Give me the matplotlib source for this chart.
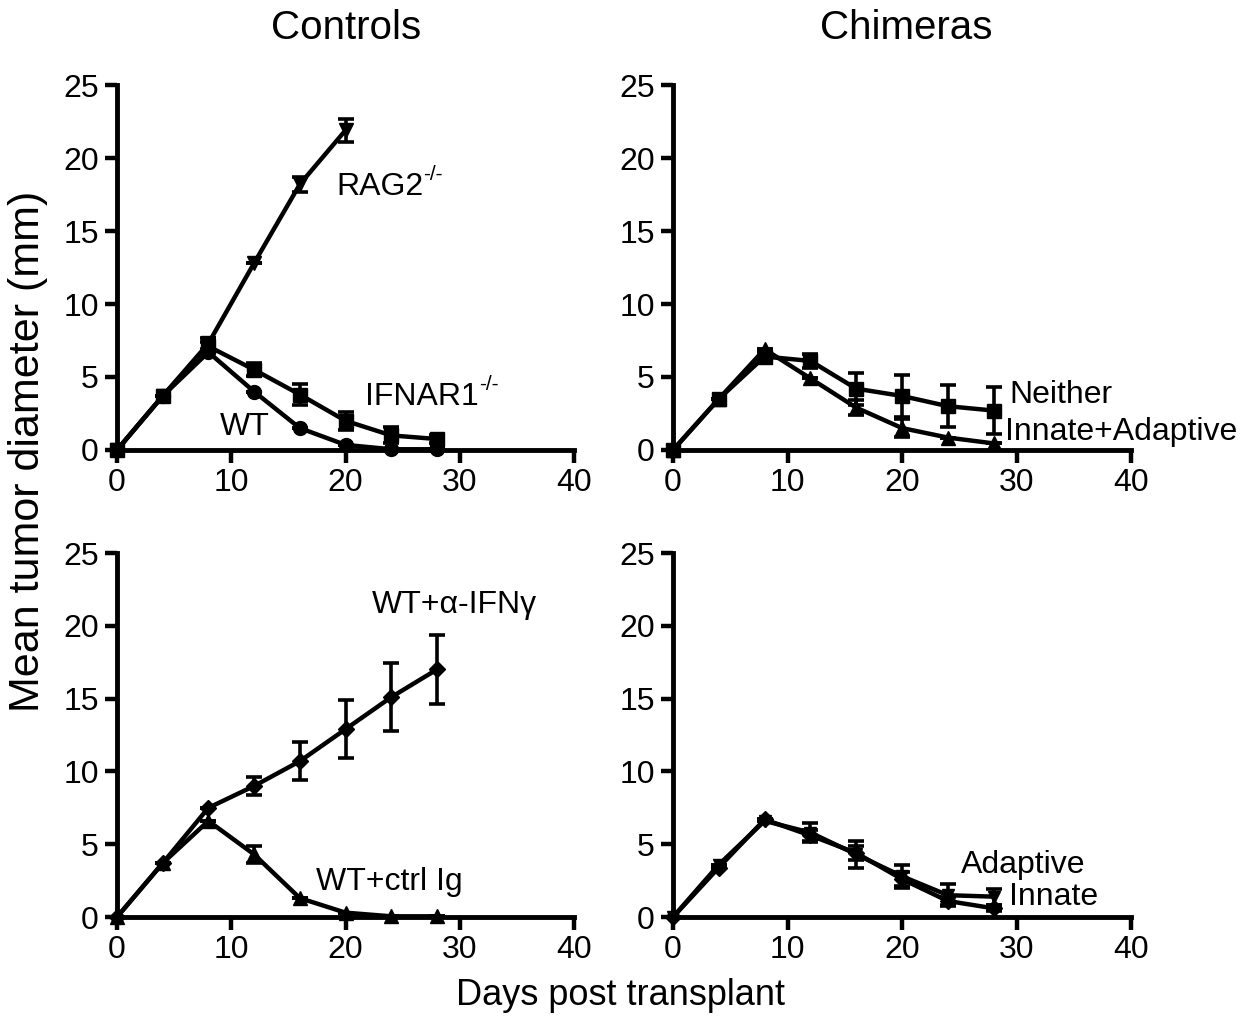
import numpy as np
import matplotlib.pyplot as plt

plt.rcParams['font.family'] = ['Liberation Sans', 'DejaVu Sans']

days = [0, 4, 8, 12, 16, 20, 24, 28]

# controls (top left)
rag2 = [0, 3.7, 7.3, 12.8, 18.2, 21.9]
rag2_err = [0, 0, 0.4, 0, 0.5, 0.8]
ifnar1 = [0, 3.7, 7.1, 5.5, 3.8, 2.0, 1.0, 0.75]
ifnar1_err = [0, 0, 0.3, 0.45, 0.75, 0.6, 0.55, 0.3]
wt = [0, 3.7, 6.7, 4.0, 1.5, 0.35, 0.05, 0.05]
wt_err = [0, 0, 0, 0, 0, 0, 0, 0]

# chimeras (top right)
neither = [0, 3.5, 6.4, 6.1, 4.2, 3.7, 3.0, 2.7]
neither_err = [0, 0, 0.3, 0.45, 1.1, 1.45, 1.45, 1.6]
innate_adapt = [0, 3.5, 6.9, 4.9, 2.9, 1.5, 0.85, 0.45]
innate_adapt_err = [0, 0, 0, 0, 0.5, 0.6, 0, 0]

# controls (bottom left)
anti_ifng = [0, 3.7, 7.5, 9.0, 10.7, 12.9, 15.1, 17.0]
anti_ifng_err = [0, 0, 0, 0.65, 1.3, 2.0, 2.35, 2.4]
ctrl_ig = [0, 3.7, 6.6, 4.3, 1.3, 0.3, 0.05, 0.05]
ctrl_ig_err = [0, 0, 0, 0.6, 0, 0, 0, 0]

# chimeras (bottom right)
adaptive = [0, 3.6, 6.6, 5.8, 4.3, 2.8, 1.5, 1.4]
adaptive_err = [0, 0, 0, 0.65, 0.9, 0.8, 0.75, 0.55]
innate = [0, 3.4, 6.7, 5.6, 4.4, 2.6, 1.1, 0.6]
innate_err = [0, 0, 0, 0.4, 0.5, 0.5, 0.3, 0.2]

fig = plt.figure(figsize=(12.58, 10.22), dpi=100)

ax_tl = fig.add_axes([0.0930, 0.5597, 0.3633, 0.3571])
ax_tr = fig.add_axes([0.5350, 0.5597, 0.3641, 0.3571])
ax_bl = fig.add_axes([0.0930, 0.1027, 0.3633, 0.3562])
ax_br = fig.add_axes([0.5350, 0.1027, 0.3641, 0.3562])


def curve(ax, y, err, marker, ms=10):
    x = days[:len(y)]
    ax.errorbar(x, y, yerr=err, color='black', lw=3.2, marker=marker, ms=ms,
                capsize=6, capthick=2.6, elinewidth=2.6, clip_on=False, zorder=3)


def label(ax, x, y, s, sup=None):
    t = ax.text(x, y, s, fontsize=23, va='center')
    if sup:
        ax.annotate(sup, xy=(1.0, 0.62), xycoords=t, fontsize=15, va='bottom')


def style(ax):
    ax.set_xlim(0, 40)
    ax.set_ylim(0, 25)
    ax.set_xticks([0, 10, 20, 30, 40])
    ax.set_yticks([0, 5, 10, 15, 20, 25])
    for s in ['top', 'right']:
        ax.spines[s].set_visible(False)
    for s in ['left', 'bottom']:
        ax.spines[s].set_linewidth(3.5)
    ax.tick_params(direction='out', length=9, width=3.2, labelsize=23, pad=4)


curve(ax_tl, rag2, rag2_err, 'v')
curve(ax_tl, ifnar1, ifnar1_err, 's')
curve(ax_tl, wt, wt_err, 'o')
label(ax_tl, 19.2, 18.0, 'RAG2', '-/-')
label(ax_tl, 21.7, 3.6, 'IFNAR1', '-/-')
label(ax_tl, 9.0, 1.6, 'WT')

curve(ax_tr, neither, neither_err, 's')
curve(ax_tr, innate_adapt, innate_adapt_err, '^')
label(ax_tr, 29.4, 3.8, 'Neither')
label(ax_tr, 29.0, 1.2, 'Innate+Adaptive')

curve(ax_bl, anti_ifng, anti_ifng_err, 'D', ms=8)
curve(ax_bl, ctrl_ig, ctrl_ig_err, '^')
label(ax_bl, 22.3, 21.4, 'WT+α-IFNγ')
label(ax_bl, 17.4, 2.4, 'WT+ctrl Ig')

curve(ax_br, adaptive, adaptive_err, 'v', ms=9)
curve(ax_br, innate, innate_err, 'D', ms=8)
label(ax_br, 25.1, 3.6, 'Adaptive')
label(ax_br, 29.3, 1.4, 'Innate')

for ax in [ax_tl, ax_tr, ax_bl, ax_br]:
    style(ax)

fig.text(346 / 1258, 1 - 28 / 1022, 'Controls', fontsize=29, ha='center', va='center')
fig.text(906 / 1258, 1 - 28 / 1022, 'Chimeras', fontsize=29, ha='center', va='center')
fig.text(28 / 1258, 1 - 451 / 1022, 'Mean tumor diameter (mm)', fontsize=31,
         rotation=90, ha='center', va='center')
fig.text(620 / 1258, 1 - 995 / 1022, 'Days post transplant', fontsize=26,
         ha='center', va='center')

fig.savefig('out.png', dpi=100)
